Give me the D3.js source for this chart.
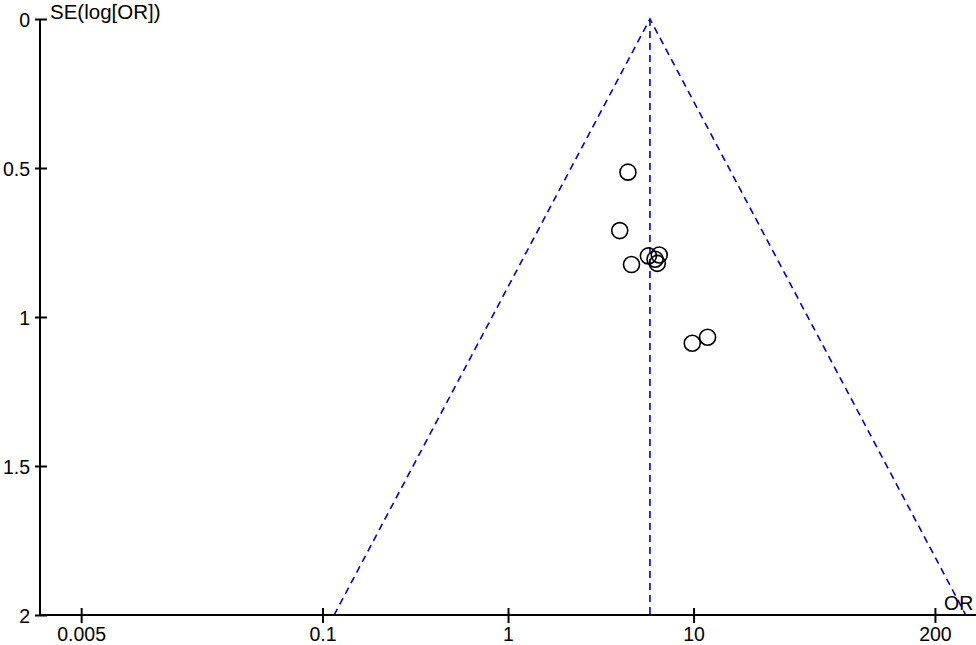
<!DOCTYPE html>
<html><head><meta charset="utf-8">
<script src="https://cdn.jsdelivr.net/npm/d3@7"></script>
<style>body{margin:0;background:#fff}svg{display:block}text{font-family:Arial,"Liberation Sans",sans-serif;fill:#000}</style>
</head><body><svg id="c" width="976" height="645"></svg>
<script>
const orValues = [4.43, 4.0, 4.63, 5.71, 6.53, 6.20, 6.38, 9.84, 11.9];
const seValues = [0.514, 0.710, 0.824, 0.795, 0.792, 0.806, 0.820, 1.088, 1.068];
const pooledOR = 5.82;
const xTicks = [0.005, 0.1, 1, 10, 200];
const xTickLabels = ["0.005", "0.1", "1", "10", "200"];
const yTicks = [0, 0.5, 1, 1.5, 2];
const yTickLabels = ["0", "0.5", "1", "1.5", "2"];

const FS = "19.5px";
const svg = d3.select("#c");
const x = d3.scaleLog().domain([0.003, 333]).range([40, 976]);
const y = d3.scaleLinear().domain([0, 2]).range([19, 615]);

// funnel
const seMax = 2;
const lo = pooledOR * Math.exp(-1.96 * seMax), hi = pooledOR * Math.exp(1.96 * seMax);
const dash = "7,5";
const blue = "#0000c8";
svg.append("path")
  .attr("d", d3.line()([[x(lo), y(seMax)], [x(pooledOR), y(0)], [x(hi), y(seMax)]]))
  .attr("fill", "none").attr("stroke", blue).attr("stroke-width", 1.6).attr("stroke-dasharray", dash);
svg.append("line")
  .attr("x1", x(pooledOR)).attr("x2", x(pooledOR)).attr("y1", y(0)).attr("y2", y(seMax))
  .attr("stroke", blue).attr("stroke-width", 1.6).attr("stroke-dasharray", dash);

// axes
const yAxis = svg.append("g").attr("transform", "translate(40,0)")
  .call(d3.axisLeft(y).tickValues(yTicks).tickFormat((d, i) => yTickLabels[i]).tickSize(6).tickPadding(6));
yAxis.attr("font-size", null).attr("font-family", null);
yAxis.select(".domain").attr("d", `M0,${y(0)}V${y(2)}`).attr("stroke-width", 2);
yAxis.selectAll(".tick line").attr("x1", -5).attr("x2", 7).attr("stroke-width", 2);
yAxis.selectAll(".tick text").attr("x", -10).attr("dy", "0.36em").style("font-size", FS);

const xAxis = svg.append("g").attr("transform", `translate(0,${y(2)})`)
  .call(d3.axisBottom(x).tickValues(xTicks).tickFormat((d, i) => xTickLabels[i]).tickSize(7).tickPadding(6));
xAxis.attr("font-size", null).attr("font-family", null);
xAxis.select(".domain").attr("d", `M40,0H976`).attr("stroke-width", 2);
xAxis.selectAll(".tick line").attr("y1", -7).attr("y2", 8).attr("stroke-width", 2);
xAxis.selectAll(".tick text").attr("y", 12).style("font-size", FS);

// points
svg.append("g").selectAll("circle").data(orValues).join("circle")
  .attr("cx", d => x(d)).attr("cy", (d, i) => y(seValues[i])).attr("r", 8)
  .attr("fill", "none").attr("stroke", "#000").attr("stroke-width", 1.6);

// labels
svg.append("text").attr("x", 50).attr("y", 19).style("font-size", "20.5px").text("SE(log[OR])");
svg.append("text").attr("x", 944).attr("y", 610).style("font-size", FS).text("OR");
</script></body></html>
